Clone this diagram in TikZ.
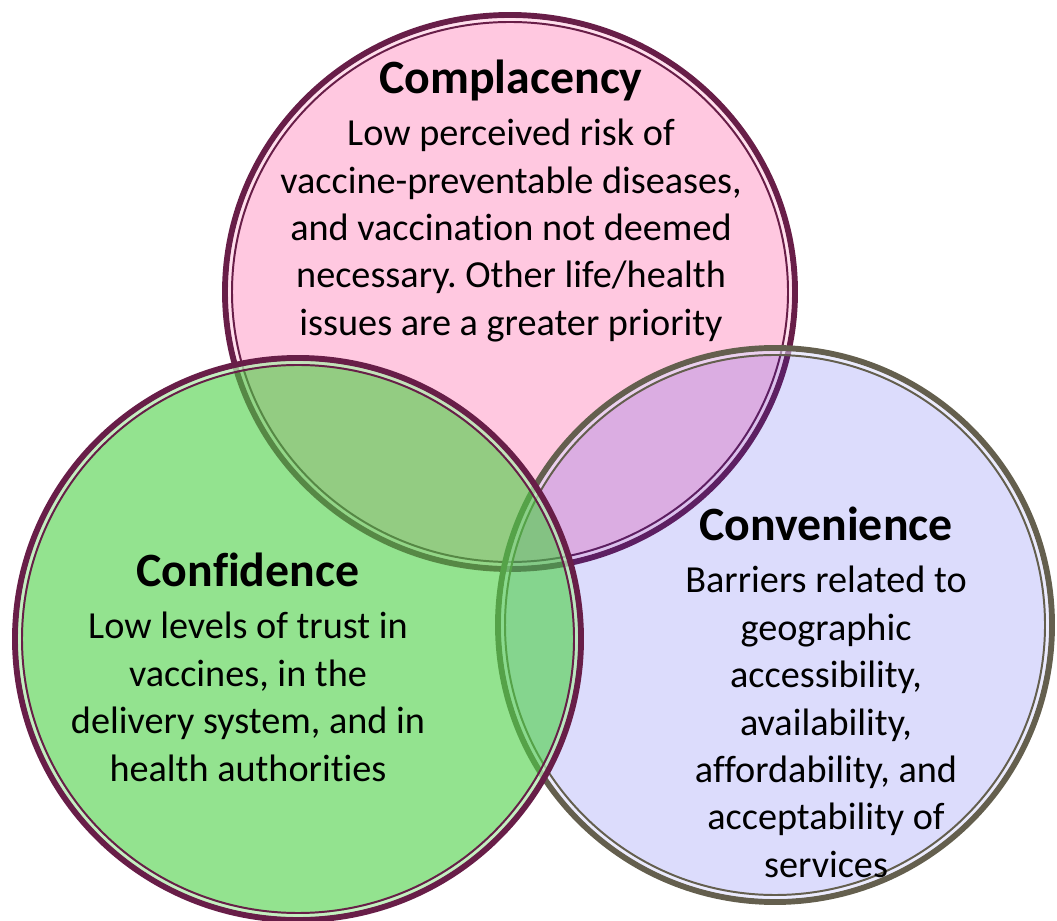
\documentclass[tikz,border=0pt]{standalone}
\usepackage{fontspec}
\setmainfont{Carlito}[Ligatures=NoCommon]
\frenchspacing
\usetikzlibrary{positioning}

\definecolor{pinkfill}{RGB}{255,200,224}
\definecolor{lavfill}{RGB}{37,37,237}
\definecolor{greenfill}{RGB}{75,208,68}
\definecolor{maroonline}{RGB}{104,30,72}
\definecolor{taupeline}{RGB}{100,95,78}

\tikzset{
  outerline/.style={line width=4.2pt},
  gapline/.style={line width=2.1pt, draw=white, opacity=0.45},
  innerline/.style={line width=1.4pt},
  heading/.style={font=\fontsize{34}{40}\selectfont\bfseries, anchor=base, inner sep=0pt},
  body/.style={font=\fontsize{27.2}{33.7}\selectfont, align=center, anchor=north, inner sep=0pt},
}

% ring with a thick outer line and a thin inner line
\newcommand{\vennring}[4]{%
  \draw[outerline, #4] #1 ellipse [x radius=#2-3, y radius=#3-3];
  \draw[gapline] #1 ellipse [x radius=#2-7.5, y radius=#3-7.5];
  \draw[innerline, #4] #1 ellipse [x radius=#2-10, y radius=#3-10];
}

\begin{document}
\begin{tikzpicture}[x=0.025cm, y=0.025cm]
  \useasboundingbox (0,0) rectangle (1057,920);

  % complacency
  \fill[pinkfill] (510,628) ellipse [x radius=285, y radius=277];
  \vennring{(510,628)}{288}{280}{maroonline}

  % convenience
  \fill[lavfill, opacity=0.16] (775,295) ellipse [x radius=277, y radius=277];
  \vennring{(775,295)}{280}{280}{taupeline}

  % confidence
  \fill[greenfill, opacity=0.6] (298,281) ellipse [x radius=283, y radius=281];
  \vennring{(298,281)}{286}{284}{maroonline}

  \node[heading] (complacency) at (511,826) {Complacency};
  \node[body] (complacencytext) at (511,801) {Low perceived risk of\\
    vaccine-preventable diseases,\\ and vaccination not deemed\\
    necessary. Other life/health\\ issues are a greater priority};

  \node[heading] (confidence) at (248,333) {Confidence};
  \node[body] (confidencetext) at (248,308) {Low levels of trust in\\
    vaccines, in the\\ delivery system, and in\\ health authorities};

  \node[heading] (convenience) at (826,379) {Convenience};
  \node[body] (conveniencetext) at (826,354) {Barriers related to\\
    geographic\\ accessibility,\\ availability,\\ affordability, and\\
    acceptability of\\ services};
\end{tikzpicture}
\end{document}
